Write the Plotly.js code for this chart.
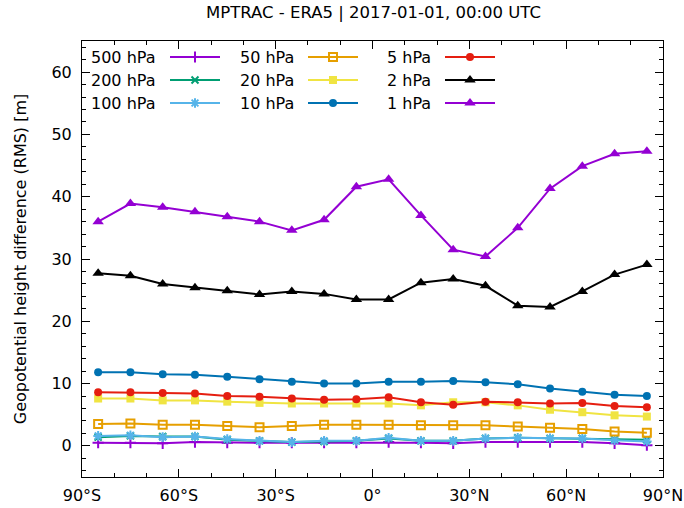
<!DOCTYPE html>
<html>
<head>
<meta charset="utf-8">
<script src="https://cdn.plot.ly/plotly-3.0.1.min.js"></script>
<style>
  html, body { margin: 0; padding: 0; background: #fff; }
  #plot { width: 684px; height: 508px; }
</style>
</head>
<body>
<div id="plot"></div>
<script>
// Zonal-mean RMS geopotential height difference, MPTRAC vs ERA5, per pressure level
const latitudes = [-85, -75, -65, -55, -45, -35, -25, -15, -5, 5, 15, 25, 35, 45, 55, 65, 75, 85];

const levels = ['500 hPa', '200 hPa', '100 hPa', '50 hPa', '20 hPa', '10 hPa', '5 hPa', '2 hPa', '1 hPa'];

const rms500 = [0.5, 0.5, 0.4, 0.6, 0.5, 0.5, 0.5, 0.5, 0.5, 0.6, 0.5, 0.4, 0.6, 0.6, 0.6, 0.6, 0.4, 0.1];
const rms200 = [1.4, 1.6, 1.5, 1.5, 1.0, 0.8, 0.6, 0.7, 0.8, 1.2, 0.8, 0.8, 1.2, 1.3, 1.2, 1.2, 1.0, 1.0];
const rms100 = [1.6, 1.7, 1.4, 1.5, 1.1, 0.8, 0.6, 0.8, 0.8, 1.3, 0.8, 0.8, 1.2, 1.3, 1.2, 1.2, 0.9, 0.7];
const rms50  = [3.5, 3.6, 3.4, 3.4, 3.2, 3.0, 3.2, 3.4, 3.4, 3.4, 3.3, 3.3, 3.3, 3.1, 2.9, 2.7, 2.3, 2.1];
const rms20  = [7.6, 7.6, 7.3, 7.3, 7.1, 6.9, 6.8, 6.8, 6.8, 6.8, 6.5, 7.0, 7.0, 6.5, 5.8, 5.4, 4.9, 4.7];
const rms10  = [11.8, 11.8, 11.5, 11.4, 11.1, 10.7, 10.3, 10.0, 10.0, 10.3, 10.3, 10.4, 10.2, 9.9, 9.2, 8.7, 8.2, 8.0];
const rms5   = [8.6, 8.6, 8.5, 8.4, 8.0, 7.9, 7.6, 7.4, 7.5, 7.8, 7.0, 6.6, 7.1, 7.0, 6.8, 6.9, 6.4, 6.2];
const rms2   = [27.7, 27.3, 26.0, 25.4, 24.9, 24.3, 24.8, 24.4, 23.5, 23.5, 26.2, 26.8, 25.7, 22.5, 22.3, 24.8, 27.5, 29.1];
const rms1   = [36.0, 38.9, 38.3, 37.6, 36.8, 36.0, 34.6, 36.3, 41.6, 42.8, 37.0, 31.5, 30.4, 35.0, 41.3, 44.9, 46.9, 47.3];

const latTickVals = [-90, -60, -30, 0, 30, 60, 90];
const latTickText = ['90°S', '60°S', '30°S', '0°', '30°N', '60°N', '90°N'];

const series = [rms500, rms200, rms100, rms50, rms20, rms10, rms5, rms2, rms1];
const colors = ['#9400d3', '#009e73', '#56b4e9', '#e69f00', '#f0e442', '#0072b2', '#e51e10', '#000000', '#9400d3'];
const symbols = ['cross-thin-open', 'x-thin-open', 'asterisk-open', 'square-open', 'square', 'circle', 'circle', 'triangle-up', 'triangle-up'];
const sizes = [8, 7, 8, 8, 8, 8, 8, 10, 10];

function markerFor(i) {
  const outlined = symbols[i].indexOf('open') >= 0;
  return {
    symbol: symbols[i],
    size: sizes[i],
    color: colors[i],
    line: { color: colors[i], width: outlined ? 2 : 0 }
  };
}

const traces = series.map((vals, i) => ({
  type: 'scatter',
  mode: 'lines+markers',
  x: latitudes,
  y: vals,
  name: levels[i],
  line: { color: colors[i], width: 2 },
  marker: markerFor(i),
  showlegend: false,
  cliponaxis: false
}));

// Key: three columns of three entries, label to the left of a line sample
const keyLabelRight = [158, 296, 433];
const keyLineStart = [170, 308, 445];
const keyLineEnd = [220, 358, 495];
const keyRows = [57, 80, 103];

const annotations = [];
levels.forEach((lab, i) => {
  const col = Math.floor(i / 3), row = i % 3;
  const x0 = keyLineStart[col], x1 = keyLineEnd[col], y = keyRows[row];
  traces.push({
    type: 'scatter',
    mode: 'lines+markers',
    xaxis: 'x2', yaxis: 'y2',
    x: [x0, (x0 + x1) / 2, x1],
    y: [y, y, y],
    line: { color: colors[i], width: 2 },
    marker: Object.assign(markerFor(i), { opacity: [0, 1, 0] }),
    showlegend: false,
    hoverinfo: 'skip',
    cliponaxis: false
  });
  annotations.push({
    xref: 'x2', yref: 'y2',
    x: keyLabelRight[col], y: y,
    xanchor: 'right', yanchor: 'middle',
    text: lab, showarrow: false,
    font: { family: 'DejaVu Sans', size: 16, color: '#000' }
  });
});

const axisCommon = {
  showline: true,
  linecolor: '#000',
  linewidth: 1,
  mirror: 'allticks',
  ticks: 'inside',
  ticklen: 8,
  tickwidth: 1,
  tickcolor: '#000',
  showgrid: false,
  zeroline: false,
  tickfont: { family: 'DejaVu Sans', size: 16, color: '#000' }
};

const layout = {
  width: 684,
  height: 508,
  margin: { l: 82, r: 21, t: 41, b: 31 },
  paper_bgcolor: '#fff',
  plot_bgcolor: '#fff',
  font: { family: 'DejaVu Sans', size: 16, color: '#000' },
  showlegend: false,
  title: {
    text: 'MPTRAC - ERA5 | 2017-01-01, 00:00 UTC',
    font: { family: 'DejaVu Sans', size: 16.5, color: '#000' },
    x: 0.546, xanchor: 'center',
    y: 0.975, yanchor: 'middle'
  },
  xaxis: Object.assign({}, axisCommon, {
    range: [-90, 90],
    tickmode: 'array',
    tickvals: latTickVals,
    ticktext: latTickText,
    ticklabelstandoff: 4,
    minor: { dtick: 10, ticks: 'inside', ticklen: 4, tickcolor: '#000', showgrid: false }
  }),
  yaxis: Object.assign({}, axisCommon, {
    range: [-5, 65],
    tick0: 0,
    dtick: 10,
    ticklabelstandoff: 6,
    minor: { dtick: 2, ticks: 'inside', ticklen: 4, tickcolor: '#000', showgrid: false },
    title: {
      text: 'Geopotential height difference (RMS) [m]',
      font: { family: 'DejaVu Sans', size: 16, color: '#000' },
      standoff: 20
    }
  }),
  xaxis2: { overlaying: 'x', range: [82, 663], visible: false, fixedrange: true },
  yaxis2: { overlaying: 'y', range: [477, 41], visible: false, fixedrange: true },
  annotations: annotations
};

Plotly.newPlot('plot', traces, layout, { staticPlot: true, displayModeBar: false });
</script>
</body>
</html>
